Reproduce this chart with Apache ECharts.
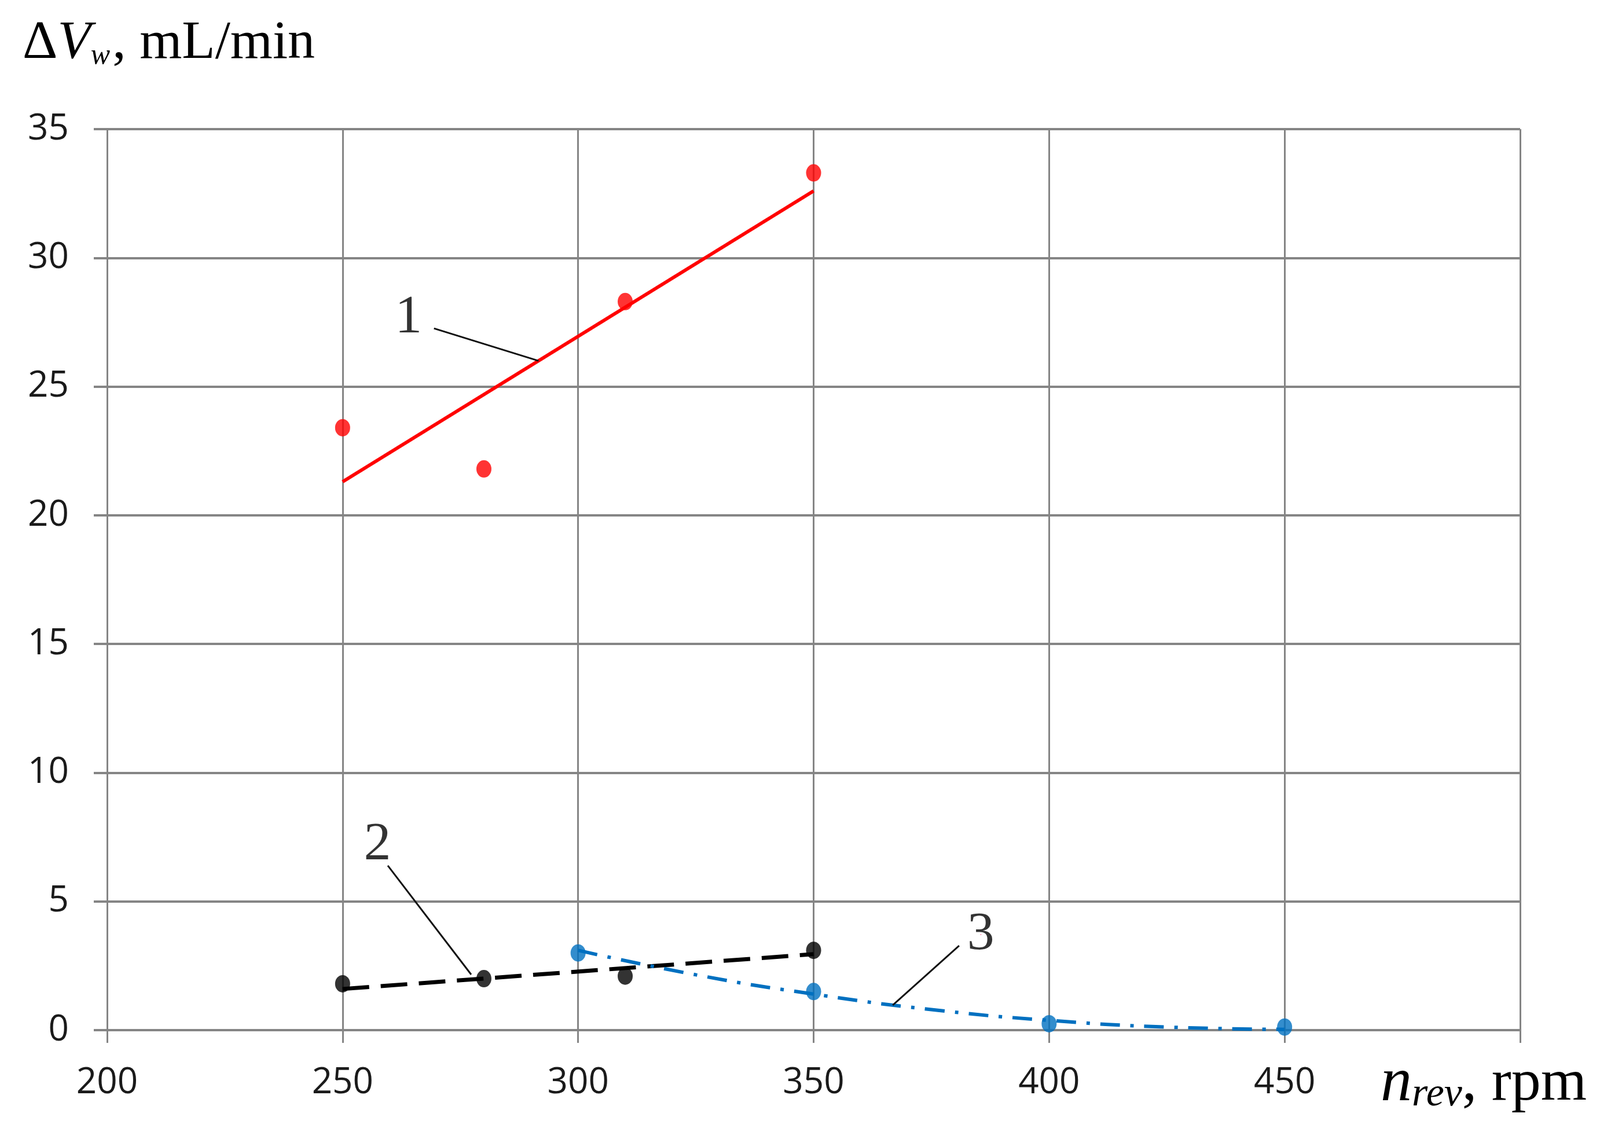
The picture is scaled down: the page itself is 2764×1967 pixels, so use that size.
<!DOCTYPE html>
<html>
<head>
<meta charset="utf-8">
<script src="https://cdn.jsdelivr.net/npm/echarts@6/dist/echarts.min.js"></script>
<style>
html,body{margin:0;padding:0;background:#fff;}
#chart{width:2764px;height:1967px;}
</style>
</head>
<body>
<div id="chart"></div>
<script>
// ---- data ----
var xTicks = [200, 250, 300, 350, 400, 450, 500];
var yTicks = [0, 5, 10, 15, 20, 25, 30, 35];

// curve 1 (red): measured points and linear trend
var pts1 = [[250, 23.4], [280, 21.8], [310, 28.3], [350, 33.3]];
var trend1 = [[250, 21.3], [350, 32.6]];

// curve 2 (black): measured points and linear trend
var pts2 = [[250, 1.8], [280, 2.0], [310, 2.1], [350, 3.1]];
var trend2 = [[250, 1.6], [350, 2.95]];

// curve 3 (blue): measured points and polynomial trend
var pts3 = [[300, 3.0], [350, 1.5], [400, 0.25], [450, 0.12]];
var trend3 = [[300, 3.1], [325, 2.15], [350, 1.4], [375, 0.8], [400, 0.38], [425, 0.12], [450, 0.03]];

// curve number labels
var curveNames = ['1', '2', '3'];

// ---- annotation placement (data units) ----
var annotText = [[264.0, 27.67], [257.4, 7.18], [385.5, 3.71]];
var annotLeader = [
  [[269.4, 27.26], [291.6, 26.0]],
  [[259.6, 6.39], [277.3, 2.16]],
  [[380.9, 3.28], [366.8, 0.97]]
];

var GRID = '#858585';
var serif = 'Liberation Serif, Times New Roman, serif';
var sans = 'Open Sans, Noto Sans, sans-serif';

var series = [
  {type: 'scatter', data: pts1, symbol: 'circle', symbolSize: [26, 30], itemStyle: {color: '#ff0000'}, z: 3},
  {type: 'line', data: trend1, showSymbol: false, symbol: 'none', lineStyle: {color: '#ff0000', width: 6}, z: 4},
  {type: 'scatter', data: pts2, symbol: 'circle', symbolSize: [26, 30], itemStyle: {color: '#000000'}, z: 3},
  {type: 'line', data: trend2, showSymbol: false, symbol: 'none', lineStyle: {color: '#000000', width: 7, type: [46, 20]}, z: 4},
  {type: 'scatter', data: pts3, symbol: 'circle', symbolSize: [26, 30], itemStyle: {color: '#0070c0'}, z: 3},
  {type: 'line', data: trend3, smooth: true, showSymbol: false, symbol: 'none', lineStyle: {color: '#0070c0', width: 6, type: [34, 18, 6, 18]}, z: 4}
];

annotLeader.forEach(function (seg) {
  series.push({type: 'line', data: seg, showSymbol: false, symbol: 'none', lineStyle: {color: '#111', width: 3}, z: 5, silent: true});
});

series.push({
  type: 'scatter',
  data: annotText.map(function (p, i) { return {value: p, name: curveNames[i]}; }),
  symbolSize: 0,
  z: 6,
  label: {
    show: true, position: 'inside',
    formatter: function (p) { return p.name; },
    fontFamily: serif, fontSize: 94, color: '#000'
  }
});

var chart = echarts.init(document.getElementById('chart'), null, {renderer: 'canvas'});
chart.setOption({
  animation: false,
  backgroundColor: '#ffffff',
  grid: {left: 185, right: 138, top: 223, bottom: 188, containLabel: false},
  xAxis: {
    type: 'value', min: xTicks[0], max: xTicks[xTicks.length - 1], interval: 50,
    axisLine: {show: true, lineStyle: {color: GRID, width: 4}},
    axisTick: {show: true, length: 22, lineStyle: {color: GRID, width: 3}},
    splitLine: {show: true, lineStyle: {color: GRID, width: 3}},
    axisLabel: {
      margin: 60, fontFamily: sans, fontSize: 62, color: '#1a1a1a',
      formatter: function (v) { return v === 500 ? '' : String(v); }
    }
  },
  yAxis: {
    type: 'value', min: yTicks[0], max: yTicks[yTicks.length - 1], interval: 5,
    axisLine: {show: true, lineStyle: {color: GRID, width: 3}},
    axisTick: {show: true, length: 23, lineStyle: {color: GRID, width: 4}},
    splitLine: {show: true, lineStyle: {color: GRID, width: 4}},
    axisLabel: {margin: 66, fontFamily: sans, fontSize: 62, color: '#1a1a1a'}
  },
  graphic: [
    {
      type: 'text', left: 39, top: 28, z: 10,
      style: {
        text: '{a|Δ}{b|V}{c|w}{a|, mL/min}',
        rich: {
          a: {fontFamily: serif, fontSize: 94, fill: '#000'},
          b: {fontFamily: serif, fontSize: 94, fontStyle: 'italic', fill: '#000'},
          c: {fontFamily: serif, fontSize: 50, fontStyle: 'italic', fill: '#000', verticalAlign: 'bottom', padding: [0, 4, 0, 0]}
        }
      }
    },
    {
      type: 'text', left: 2385, top: 1818, z: 10,
      style: {
        text: '{b|n}{c|rev}{a|, rpm}',
        rich: {
          a: {fontFamily: serif, fontSize: 102, fill: '#000'},
          b: {fontFamily: serif, fontSize: 108, fontStyle: 'italic', fill: '#000'},
          c: {fontFamily: serif, fontSize: 70, fontStyle: 'italic', fill: '#000', verticalAlign: 'bottom'}
        }
      }
    }
  ],
  series: series
});
</script>
</body>
</html>
